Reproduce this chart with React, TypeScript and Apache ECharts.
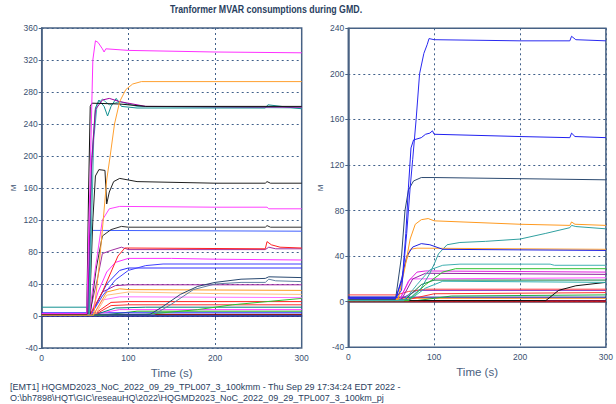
import React, { useEffect, useRef } from "react";
import * as echarts from "echarts";

// ---- Axis ticks ----
const timeTicks = [0, 100, 200, 300];
const leftMvarRange = [-40, 360];
const rightMvarRange = [-40, 240];
const mvarStep = 40;

// ---- Left panel transformers: [time s, MVAR] ----
const l01 = [[0, 3], [52, 3], [56, 180], [59, 320], [62, 344], [65, 342], [70, 334], [72, 330], [74, 334], [100, 332], [200, 330], [300, 329]];
const l02 = [[0, 1], [60, 1], [66, 60], [71, 120], [75, 170], [79, 200], [84, 240], [90, 268], [97, 283], [105, 290], [115, 293], [300, 293]];
const l03 = [[0, 2], [52, 2], [54, 150], [56, 262], [58, 266], [90, 265], [120, 262], [300, 262]];
const l04 = [[0, 2], [53, 2], [57, 180], [62, 258], [70, 270], [78, 272], [90, 268], [120, 262], [300, 261]];
const l05 = [[0, 11], [52, 11], [54, 3], [58, 200], [62, 260], [66, 270], [72, 262], [76, 250], [80, 262], [86, 272], [92, 262], [110, 260], [258, 260], [261, 264], [300, 259]];
const l06 = [[0, 2], [55, 2], [60, 220], [64, 265], [70, 271], [78, 264], [90, 268], [110, 262], [300, 260]];
const l07 = [[0, 2], [55, 2], [59, 120], [62, 175], [66, 183], [73, 182], [75, 140], [78, 155], [83, 168], [90, 172], [110, 168], [200, 166], [258, 166], [260, 168], [264, 166], [300, 166]];
const l08 = [[0, 2], [55, 2], [62, 60], [70, 120], [78, 134], [90, 137], [200, 136], [260, 136], [262, 134], [300, 134]];
const l09 = [[0, 2], [56, 2], [63, 60], [70, 100], [80, 108], [92, 112], [100, 111], [200, 111], [258, 111], [260, 113], [264, 111], [300, 111]];
const l10 = [[0, 2], [53, 2], [56, 100], [58, 107], [300, 106]];
const l11 = [[0, 2], [56, 2], [70, 30], [80, 55], [88, 75], [96, 85], [258, 84], [260, 93], [265, 89], [275, 86], [300, 85]];
const l12 = [[0, 2], [55, 2], [65, 50], [70, 78], [80, 82], [92, 86], [100, 83], [258, 83], [262, 86], [270, 84], [300, 84]];
const l13 = [[0, 2], [57, 2], [65, 30], [75, 55], [85, 67], [100, 72], [150, 72], [200, 71], [300, 70]];
const l14 = [[0, 2], [57, 2], [70, 25], [85, 45], [100, 57], [120, 63], [140, 65], [300, 65]];
const l15 = [[0, 2], [57, 2], [75, 40], [90, 57], [100, 60], [300, 60]];
const l16 = [[0, 1], [125, 2], [140, 12], [160, 27], [180, 37], [200, 42], [230, 46], [258, 47], [262, 49], [300, 48]];
const l17 = [[0, 1], [130, 2], [150, 15], [175, 33], [200, 40], [230, 42], [258, 42], [262, 46], [270, 44], [300, 43]];
const l18 = [[0, 2], [57, 2], [70, 30], [85, 38], [100, 39], [300, 39]];
const l19 = [[0, 2], [60, 2], [75, 30], [90, 34], [100, 33], [300, 32]];
const l20 = [[0, 2], [62, 2], [75, 26], [100, 30], [200, 28], [300, 27]];
const l21 = [[0, 2], [60, 2], [70, 20], [90, 24], [300, 23]];
const l22 = [[0, 1], [120, 2], [180, 8], [220, 14], [260, 18], [300, 22]];
const l23 = [[0, 2], [60, 2], [80, 17], [100, 18], [300, 18]];
const l24 = [[0, 2], [62, 2], [80, 13], [100, 14], [300, 14]];
const l25 = [[0, 1], [60, 1], [85, 10], [120, 11], [300, 11]];
const l26 = [[0, 2], [60, 2], [90, 8], [300, 8]];
const l27 = [[0, 4], [300, 4]];
const l28 = [[0, 1], [70, 1], [110, 6], [300, 6]];
const l29 = [[0, 2], [300, 2]];
const l30 = [[0, 0], [300, 0]];

// ---- Right panel transformers: [time s, MVAR] ----
const r01 = [[0, 3], [55, 3], [62, 10], [68, 60], [72, 100], [75, 125], [79, 160], [83, 200], [88, 218], [92, 226], [94, 231], [100, 230], [200, 229], [258, 229], [260, 233], [265, 230], [300, 229]];
const r02 = [[0, 3], [55, 3], [63, 20], [67, 60], [70, 100], [73, 135], [76, 142], [85, 144], [90, 147], [95, 148], [98, 150], [100, 147], [200, 145], [258, 144], [260, 148], [264, 145], [300, 144]];
const r03 = [[0, 2], [55, 2], [62, 40], [66, 80], [70, 98], [76, 106], [85, 109], [100, 109], [200, 108], [300, 107]];
const r04 = [[0, 2], [58, 2], [66, 30], [72, 55], [78, 68], [85, 72], [93, 73], [100, 71], [200, 68], [258, 67], [260, 70], [264, 68], [300, 67]];
const r05 = [[0, 4], [56, 4], [62, 20], [68, 40], [75, 48], [85, 51], [95, 50], [110, 46], [300, 45]];
const r06 = [[0, 2], [58, 2], [65, 30], [72, 46], [80, 47], [300, 46]];
const r07 = [[0, 2], [70, 2], [85, 12], [95, 25], [100, 33], [105, 42], [115, 50], [130, 52], [160, 53], [200, 55], [230, 60], [258, 65], [260, 67], [265, 66], [300, 64]];
const r08 = [[0, 1], [65, 1], [80, 15], [95, 28], [110, 32], [130, 33], [235, 33], [240, 32], [300, 32]];
const r09 = [[0, 1], [70, 1], [90, 15], [110, 26], [125, 29], [300, 29]];
const r10 = [[0, 2], [60, 2], [70, 18], [80, 26], [90, 27], [300, 26]];
const r11 = [[0, 2], [62, 2], [75, 20], [90, 25], [300, 24]];
const r12 = [[0, 2], [60, 2], [72, 20], [300, 21]];
const r13 = [[0, 1], [65, 1], [85, 15], [100, 19], [300, 19]];
const r14 = [[0, 1], [70, 1], [90, 12], [110, 18], [300, 17]];
const r15 = [[0, 1], [230, 1], [245, 10], [265, 14], [300, 17]];
const r16 = [[0, 6], [56, 6], [70, 9], [90, 11], [300, 11]];
const r17 = [[0, 2], [60, 2], [80, 10], [300, 10]];
const r18 = [[0, 2], [70, 2], [100, 7], [300, 8]];
const r19 = [[0, 1], [80, 1], [120, 5], [300, 6]];
const r20 = [[0, 4], [300, 4]];
const r21 = [[0, 3], [60, 3], [100, 3], [300, 3]];
const r22 = [[0, 1], [300, 1]];
const r23 = [[0, 0], [300, 0]];

const leftSeries = [l30, l29, l28, l27, l26, l25, l24, l23, l22, l21, l20, l19, l18, l17, l16, l15, l14, l13, l12, l11, l10, l09, l08, l07, l06, l05, l04, l03, l02, l01];
const leftColors = ["#0000a0", "#800000", "#20b020", "#2020ff", "#ff40ff", "#008080", "#ff3030", "#ff2020", "#30c030", "#ff70ff", "#ffc080", "#ff9a20", "#a020a0", "#6080a0", "#284870", "#3030ff", "#4040ff", "#ff30ff", "#a030a0", "#ff2020", "#4060ff", "#303030", "#ff40ff", "#202020", "#40b0b0", "#109090", "#a000a0", "#101010", "#ffa030", "#ff30ff"];

const rightSeries = [r23, r22, r21, r20, r19, r18, r17, r16, r15, r14, r13, r12, r11, r10, r09, r08, r07, r06, r05, r04, r03, r02, r01];
const rightColors = ["#e00000", "#700030", "#ff9020", "#1010a0", "#20b040", "#ff3030", "#8020c0", "#ff4040", "#101010", "#30b0b0", "#108040", "#ff50ff", "#9020a0", "#e020e0", "#30c030", "#40b0b0", "#30a0a0", "#ffa030", "#2020e0", "#ff9a20", "#2c4a70", "#2020f0", "#2a2af0"];

const axisColor = "#4a6282";
const textColor = "#3a5070";

function buildOption() {
  const yAxisCommon = {
    type: "value" as const,
    interval: mvarStep,
    name: "M",
    nameLocation: "middle" as const,
    nameGap: 24,
    nameTextStyle: { color: textColor, fontSize: 8, fontFamily: "Liberation Sans" },
    axisLine: { show: true, lineStyle: { color: axisColor, width: 1.5 } },
    axisTick: { show: true, length: 3, lineStyle: { color: axisColor } },
    axisLabel: { color: textColor, fontSize: 8.5, fontFamily: "Liberation Sans", margin: 4 },
    splitLine: { show: true, lineStyle: { color: "#40608a", type: [2, 3] as any, width: 1 } },
  };
  const xAxisCommon = {
    type: "value" as const,
    min: timeTicks[0],
    max: timeTicks[timeTicks.length - 1],
    interval: 100,
    name: "Time (s)",
    nameLocation: "middle" as const,
    nameGap: 17,
    nameTextStyle: { color: "#4a6080", fontSize: 11.5, fontFamily: "Liberation Sans" },
    axisLine: { show: true, lineStyle: { color: axisColor, width: 1.5 } },
    axisTick: { show: true, length: 3, lineStyle: { color: axisColor } },
    axisLabel: { color: textColor, fontSize: 8.5, fontFamily: "Liberation Sans", margin: 5 },
    splitLine: { show: true, lineStyle: { color: "#40608a", type: [2, 3] as any, width: 1 } },
  };
  const mk = (data: number[][], color: string, idx: number) => ({
    type: "line" as const,
    xAxisIndex: idx,
    yAxisIndex: idx,
    data,
    showSymbol: false,
    symbol: "none",
    silent: true,
    lineStyle: { color, width: 1 },
  });
  return {
    animation: false,
    backgroundColor: "#ffffff",
    grid: [
      { left: 41.7, right: 314.3, top: 28, bottom: 56, show: true, borderColor: axisColor, borderWidth: 1.5, backgroundColor: "#fff" },
      { left: 348.3, right: 8.7, top: 28.3, bottom: 56.7, show: true, borderColor: axisColor, borderWidth: 1.5, backgroundColor: "#fff" },
    ],
    xAxis: [
      { ...xAxisCommon, gridIndex: 0 },
      { ...xAxisCommon, gridIndex: 1 },
    ],
    yAxis: [
      { ...yAxisCommon, gridIndex: 0, min: leftMvarRange[0], max: leftMvarRange[1] },
      { ...yAxisCommon, gridIndex: 1, min: rightMvarRange[0], max: rightMvarRange[1] },
    ],
    series: [
      ...leftSeries.map((d, i) => mk(d, leftColors[i], 0)),
      ...rightSeries.map((d, i) => mk(d, rightColors[i], 1)),
    ],
    graphic: [
      {
        // condensed bold heading
        type: "text",
        x: 266,
        y: 4,
        scaleX: 0.84,
        style: {
          text: "Tranformer MVAR consumptions during GMD.",
          fill: "#2a3f5f",
          font: "bold 10.5px Liberation Sans",
          align: "center",
          verticalAlign: "top",
        },
      },
      {
        type: "text",
        x: 10,
        y: 381,
        style: {
          text: "[EMT1] HQGMD2023_NoC_2022_09_29_TPL007_3_100kmm - Thu Sep 29 17:34:24 EDT 2022 -\nO:\\bh7898\\HQT\\GIC\\reseauHQ\\2022\\HQGMD2023_NoC_2022_09_29_TPL007_3_100km_pj",
          fill: "#2a4060",
          font: "9px Liberation Sans",
          lineHeight: 11,
        },
      },
    ],
  };
}

export default function App() {
  const ref = useRef<HTMLDivElement>(null);
  useEffect(() => {
    document.body.style.margin = "0";
    if (!ref.current) return;
    const chart = echarts.init(ref.current, undefined, { renderer: "svg" });
    chart.setOption(buildOption() as any);
    return () => chart.dispose();
  }, []);
  return <div ref={ref} style={{ width: 616, height: 404 }} />;
}
